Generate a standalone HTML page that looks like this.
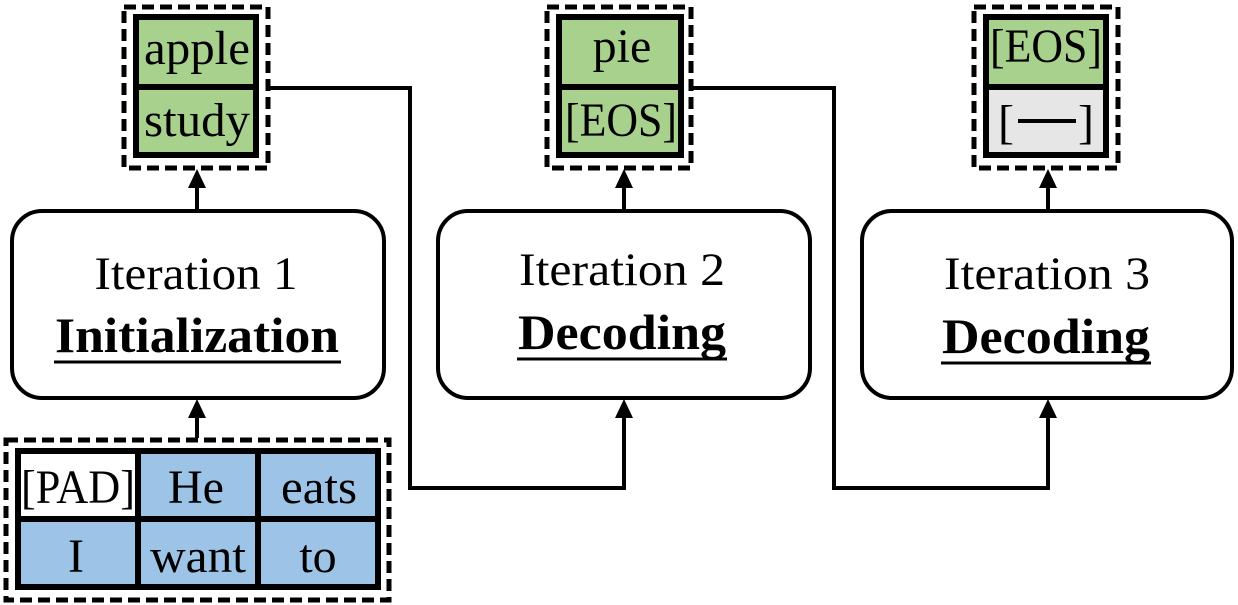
<!DOCTYPE html>
<html><head><style>body{margin:0;background:#fff}svg{display:block}text{font-family:"Liberation Serif","Times New Roman",serif}</style></head><body>
<svg width="1238" height="605" viewBox="0 0 1238 605" xmlns="http://www.w3.org/2000/svg">
<g fill="none" stroke="#000" stroke-width="5">
<rect x="124" y="7" width="144" height="161" stroke-dasharray="12,6"/>
<rect x="547" y="7" width="144" height="161" stroke-dasharray="12,6"/>
<rect x="974" y="7" width="144" height="161" stroke-dasharray="12,6"/>
</g>
<rect x="136" y="17" width="120" height="138" fill="#a9d18e" stroke="#000" stroke-width="6"/>
<rect x="559" y="17" width="122" height="138" fill="#a9d18e" stroke="#000" stroke-width="6"/>
<rect x="986" y="17" width="120" height="138" fill="#a9d18e" stroke="#000" stroke-width="6"/>
<rect x="989" y="89" width="114" height="63" fill="#e7e6e6"/>
<g stroke="#000" stroke-width="6"><line x1="136" y1="87" x2="256" y2="87"/><line x1="559" y1="87" x2="681" y2="87"/><line x1="986" y1="87" x2="1106" y2="87"/></g>
<g font-size="48" text-anchor="middle">
<text x="197" y="64" textLength="106" lengthAdjust="spacingAndGlyphs">apple</text>
<text x="197" y="136" textLength="106" lengthAdjust="spacingAndGlyphs">study</text>
<text x="622" y="62">pie</text>
<text x="621" y="136" textLength="112" lengthAdjust="spacingAndGlyphs">[EOS]</text>
<text x="1046" y="62" textLength="112" lengthAdjust="spacingAndGlyphs">[EOS]</text>
<text x="1006" y="138">[</text>
<text x="1086" y="138">]</text>
</g>
<line x1="1018" y1="121" x2="1076" y2="121" stroke="#000" stroke-width="4"/>
<g fill="#fff" stroke="#000" stroke-width="4">
<rect x="12" y="211" width="372" height="187" rx="30"/>
<rect x="438" y="211" width="372" height="187" rx="30"/>
<rect x="862" y="211" width="370" height="187" rx="30"/>
</g>
<g font-size="47" text-anchor="middle">
<text x="196" y="289" textLength="203" lengthAdjust="spacingAndGlyphs">Iteration 1</text>
<text x="622" y="285" textLength="206" lengthAdjust="spacingAndGlyphs">Iteration 2</text>
<text x="1047" y="289" textLength="206" lengthAdjust="spacingAndGlyphs">Iteration 3</text>
</g>
<g font-size="50" text-anchor="middle" font-weight="bold">
<text x="197" y="352" textLength="284" lengthAdjust="spacingAndGlyphs">Initialization</text>
<text x="622" y="349" textLength="208" lengthAdjust="spacingAndGlyphs">Decoding</text>
<text x="1046" y="353" textLength="208" lengthAdjust="spacingAndGlyphs">Decoding</text>
</g>
<g stroke="#000" stroke-width="3">
<line x1="54" y1="362" x2="341" y2="362"/>
<line x1="517" y1="359" x2="727" y2="359"/>
<line x1="941" y1="363" x2="1151" y2="363"/>
</g>
<rect x="6" y="440" width="383" height="160" fill="none" stroke="#000" stroke-width="5" stroke-dasharray="12,6"/>
<rect x="18" y="451" width="360" height="136" fill="#9dc3e6" stroke="#000" stroke-width="6"/>
<rect x="21" y="454" width="116" height="63" fill="#fff"/>
<g stroke="#000" stroke-width="6"><line x1="18" y1="519" x2="378" y2="519"/><line x1="138" y1="451" x2="138" y2="587"/><line x1="258" y1="451" x2="258" y2="587"/></g>
<g font-size="48" text-anchor="middle">
<text x="78" y="503" textLength="114" lengthAdjust="spacingAndGlyphs">[PAD]</text>
<text x="196" y="503">He</text>
<text x="319" y="503" textLength="76" lengthAdjust="spacingAndGlyphs">eats</text>
<text x="76" y="572">I</text>
<text x="198" y="572" textLength="96" lengthAdjust="spacingAndGlyphs">want</text>
<text x="318" y="572">to</text>
</g>
<g fill="none" stroke="#000" stroke-width="4">
<line x1="197" y1="211" x2="197" y2="186"/>
<line x1="624" y1="211" x2="624" y2="186"/>
<line x1="1048" y1="211" x2="1048" y2="186"/>
<line x1="197" y1="438" x2="197" y2="416"/>
<polyline points="268,88 410,88 410,488 624,488 624,416"/>
<polyline points="692,88 834,88 834,488 1048,488 1048,416"/>
</g>
<g fill="#000">
<polygon points="188,188 206,188 197,169"/>
<polygon points="615,188 633,188 624,169"/>
<polygon points="1039,188 1057,188 1048,169"/>
<polygon points="188,418 206,418 197,399"/>
<polygon points="615,418 633,418 624,399"/>
<polygon points="1039,418 1057,418 1048,399"/>
</g>
</svg>
</body></html>
